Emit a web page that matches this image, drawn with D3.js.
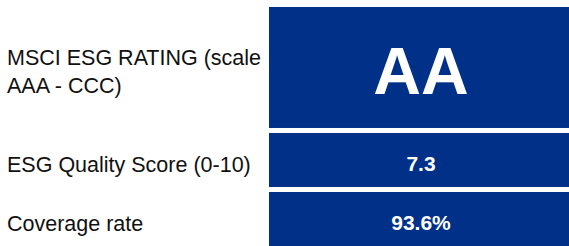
<!DOCTYPE html>
<html>
<head>
<meta charset="utf-8">
<script src="https://cdn.jsdelivr.net/npm/d3@7"></script>
<style>
  html, body { margin: 0; padding: 0; background: #fff; }
  svg { display: block; }
  text { font-family: "Liberation Sans", Arial, sans-serif; }
</style>
</head>
<body>
<script>
// ---- data ----
const labels = [
  ["MSCI ESG RATING (scale", "AAA - CCC)"],
  ["ESG Quality Score (0-10)"],
  ["Coverage rate"]
];
const values = ["AA", "7.3", "93.6%"];

// ---- layout ----
const W = 569, H = 246;
const rowWeights = [2.24, 1, 1];
const boxX0 = 269, boxX1 = 569, boxTop = 7, boxBottom = 246, gap = 5;
const color = "#003087";
const valueSizes = [66, 21, 21];
const labelSize = 21.5;

const svg = d3.select("body").append("svg").attr("width", W).attr("height", H);

// cumulative weight scale for rows
const cum = [0];
rowWeights.forEach((w, i) => cum.push(cum[i] + w));
const totalGap = gap * (rowWeights.length - 1);
const y = d3.scaleLinear().domain([0, cum[cum.length - 1]]).range([boxTop, boxBottom - totalGap]);
const x = d3.scaleLinear().domain([0, 1]).range([boxX0, boxX1]);

const rows = values.map((v, i) => ({
  value: v,
  label: labels[i],
  y0: y(cum[i]) + gap * i,
  y1: y(cum[i + 1]) + gap * i,
  size: valueSizes[i]
}));

const g = svg.selectAll("g.row").data(rows).join("g").attr("class", "row");

g.append("rect")
  .attr("x", x(0)).attr("width", x(1) - x(0))
  .attr("y", d => d.y0).attr("height", d => d.y1 - d.y0)
  .attr("fill", color);

g.append("text")
  .attr("x", (x(0) + x(1)) / 2 + 2)
  .attr("y", d => (d.y0 + d.y1) / 2 + 3 + d.size * 0.716 / 2)
  .attr("text-anchor", "middle")
  .attr("fill", "#fff")
  .attr("font-weight", "bold")
  .attr("font-size", d => d.size)
  .text(d => d.value);

g.each(function(d) {
  const n = d.label.length;
  const lh = 28;
  const mid = (d.y0 + d.y1) / 2 + 4;
  const firstBase = mid - (n - 1) * lh / 2 + labelSize * 0.716 / 2;
  d3.select(this).selectAll("text.lab").data(d.label).join("text")
    .attr("class", "lab")
    .attr("x", 7)
    .attr("y", (t, j) => firstBase + j * lh)
    .attr("font-size", labelSize)
    .attr("fill", "#111")
    .text(t => t);
});
</script>
</body>
</html>
